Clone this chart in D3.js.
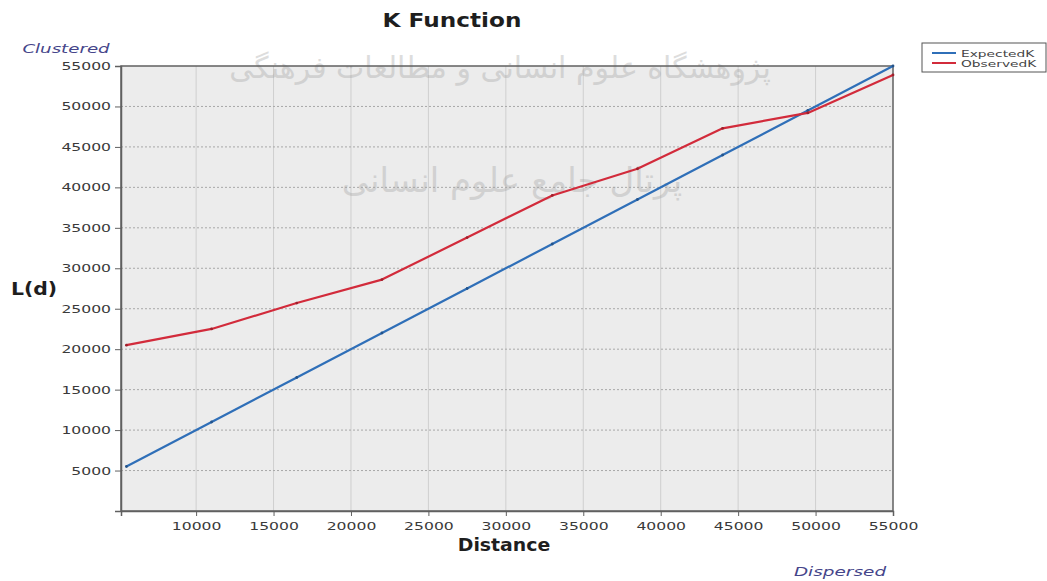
<!DOCTYPE html>
<html>
<head>
<meta charset="utf-8">
<script src="https://cdn.jsdelivr.net/npm/d3@7"></script>
<style>
  body { margin: 0; background: #fff; }
  svg { display: block; }
</style>
</head>
<body>
<div id="chart"></div>
<script>
// distances (x) and the two K curves
const distance = [5500, 11000, 16500, 22000, 27500, 33000, 38500, 44000, 49500, 55000];
const expectedK = [5500, 11000, 16500, 22000, 27500, 33000, 38500, 44000, 49500, 55000];
const observedK = [20500, 22500, 25700, 28600, 33800, 39000, 42300, 47300, 49200, 53900];

const xTicks = [10000, 15000, 20000, 25000, 30000, 35000, 40000, 45000, 50000, 55000];
const yTicks = [5000, 10000, 15000, 20000, 25000, 30000, 35000, 40000, 45000, 50000, 55000];

const seriesNames = ["ExpectedK", "ObservedK"];
const seriesColors = ["#2f6fb8", "#d22b3b"];

const W = 1047, H = 581;
const plot = { left: 121, right: 893, top: 66, bottom: 511 };

const svg = d3.select("#chart").append("svg")
  .attr("width", W)
  .attr("height", H)
  .style("font-family", "DejaVu Sans, Verdana, sans-serif");

// helper: text stretched horizontally (the original is a wide scan)
function stretched(x, y, str, sx) {
  return svg.append("text")
    .attr("transform", "translate(" + x + "," + y + ") scale(" + sx + ",1)")
    .text(str);
}

const x = d3.scaleLinear().domain([5150, 55000]).range([plot.left, plot.right]);
const y = d3.scaleLinear().domain([0, 55000]).range([plot.bottom, plot.top]);

// plot background
svg.append("rect")
  .attr("x", plot.left).attr("y", plot.top)
  .attr("width", plot.right - plot.left).attr("height", plot.bottom - plot.top)
  .attr("fill", "#ececec");

// grid
svg.append("g").selectAll("line").data(xTicks.slice(0, -1)).enter().append("line")
  .attr("x1", d => x(d)).attr("x2", d => x(d))
  .attr("y1", plot.top).attr("y2", plot.bottom)
  .attr("stroke", "#cfcfcf").attr("stroke-width", 1);
svg.append("g").selectAll("line").data(yTicks.slice(0, -1)).enter().append("line")
  .attr("x1", plot.left).attr("x2", plot.right)
  .attr("y1", d => y(d)).attr("y2", d => y(d))
  .attr("stroke", "#a8a8a8").attr("stroke-width", 1)
  .attr("stroke-dasharray", "2,2");

// watermark of the scanned page (faint, behind the lines)
const wm = svg.append("g").attr("fill", "#a0a0a0").attr("opacity", 0.35)
  .style("font-family", "DejaVu Sans, sans-serif").attr("text-anchor", "middle");
wm.append("text").attr("x", 500).attr("y", 78)
  .attr("font-size", 30).attr("direction", "rtl")
  .text("پژوهشگاه علوم انسانی و مطالعات فرهنگی");
wm.append("text").attr("x", 512).attr("y", 192)
  .attr("font-size", 34).attr("direction", "rtl")
  .text("پرتال جامع علوم انسانی");

// frame
svg.append("rect")
  .attr("x", plot.left).attr("y", plot.top)
  .attr("width", plot.right - plot.left).attr("height", plot.bottom - plot.top)
  .attr("fill", "none").attr("stroke", "#606060").attr("stroke-width", 1.5);

// axes
const xAxis = svg.append("g")
  .attr("transform", "translate(0," + plot.bottom + ")")
  .call(d3.axisBottom(x).tickValues(xTicks).tickFormat(d3.format("d")).tickSize(5).tickPadding(6));
const yAxis = svg.append("g")
  .attr("transform", "translate(" + plot.left + ",0)")
  .call(d3.axisLeft(y).tickValues(yTicks).tickFormat(d3.format("d")).tickSize(6).tickPadding(1));

[xAxis, yAxis].forEach(a => {
  a.select(".domain").attr("stroke", "#606060").attr("stroke-width", 1.5);
  a.selectAll(".tick line").attr("stroke", "#606060");
  a.selectAll("text").attr("font-size", 11).attr("fill", "#3a3a3a")
    .attr("font-family", "DejaVu Sans, Verdana, sans-serif")
    .attr("transform", "scale(1.42,1)");
});

// lines
const line = d3.line().x(d => x(d[0])).y(d => y(d[1]));
[expectedK, observedK].forEach((vals, i) => {
  const pts = distance.map((d, j) => [d, vals[j]]);
  svg.append("path")
    .datum(pts)
    .attr("d", line)
    .attr("fill", "none")
    .attr("stroke", seriesColors[i])
    .attr("stroke-width", 2.2)
    .attr("stroke-linejoin", "round");
  svg.append("g").selectAll("circle").data(pts).enter().append("circle")
    .attr("cx", d => x(d[0])).attr("cy", d => y(d[1])).attr("r", 1.4)
    .attr("fill", d3.color(seriesColors[i]).darker(0.8));
});

// titles
stretched(452, 27, "K Function", 1.22)
  .attr("text-anchor", "middle").attr("font-size", 19).attr("font-weight", "bold").attr("fill", "#1e1e1e");
stretched(504, 551, "Distance", 1.05)
  .attr("text-anchor", "middle").attr("font-size", 18).attr("font-weight", "bold").attr("fill", "#1e1e1e");
stretched(34, 295, "L(d)", 1.2)
  .attr("text-anchor", "middle").attr("font-size", 17).attr("font-weight", "bold").attr("fill", "#1e1e1e");
stretched(66, 53, "Clustered", 1.4)
  .attr("text-anchor", "middle").attr("font-size", 13).attr("font-style", "italic").attr("fill", "#45458a");
stretched(840, 576, "Dispersed", 1.42)
  .attr("text-anchor", "middle").attr("font-size", 13).attr("font-style", "italic").attr("fill", "#45458a");

// legend
const legend = svg.append("g").attr("transform", "translate(922,43)");
legend.append("rect").attr("width", 124).attr("height", 29)
  .attr("fill", "#fff").attr("stroke", "#555").attr("stroke-width", 1);
seriesNames.forEach((name, i) => {
  const g = legend.append("g").attr("transform", "translate(0," + (10 + i * 10) + ")");
  g.append("line").attr("x1", 10).attr("x2", 34).attr("stroke", seriesColors[i]).attr("stroke-width", 2);
  g.append("text").attr("transform", "translate(39,3.5) scale(1.45,1)")
    .attr("font-size", 9.5).attr("fill", "#444").text(name);
});
</script>
</body>
</html>
